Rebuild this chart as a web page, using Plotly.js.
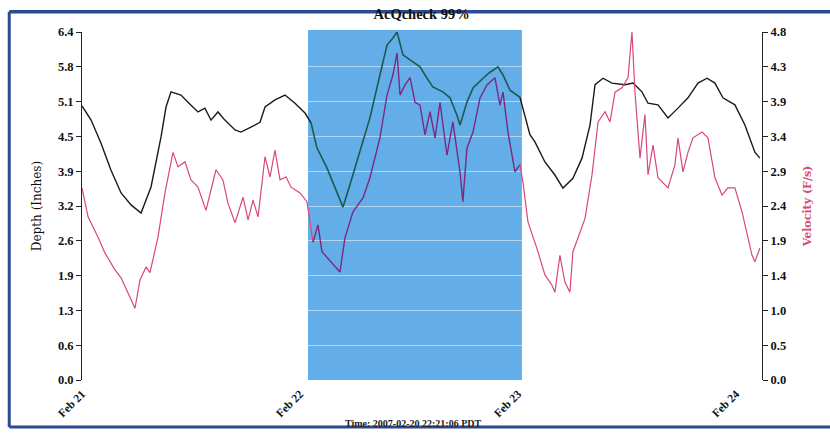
<!DOCTYPE html>
<html>
<head>
<meta charset="utf-8">
<script src="https://cdn.plot.ly/plotly-3.0.1.min.js"></script>
<style>html,body{margin:0;padding:0;background:#fff;}#chart{width:830px;height:433px;}</style>
</head>
<body>
<div id="chart"></div>
<script>
// ---- data ----
const depthTime = ["2007-02-21 00:00","2007-02-21 01:00","2007-02-21 02:05","2007-02-21 03:11","2007-02-21 04:18","2007-02-21 05:24","2007-02-21 06:30","2007-02-21 07:36","2007-02-21 08:42","2007-02-21 09:15","2007-02-21 09:48","2007-02-21 10:54","2007-02-21 11:40","2007-02-21 12:46","2007-02-21 13:32","2007-02-21 14:12","2007-02-21 14:58","2007-02-21 15:44","2007-02-21 16:51","2007-02-21 17:30","2007-02-21 18:36","2007-02-21 19:36","2007-02-21 20:09","2007-02-21 21:15","2007-02-21 22:21","2007-02-21 23:27","2007-02-22 00:33","2007-02-22 01:13","2007-02-22 01:52","2007-02-22 02:58","2007-02-22 04:04","2007-02-22 04:44","2007-02-22 05:30","2007-02-22 06:36","2007-02-22 07:42","2007-02-22 08:48","2007-02-22 09:35","2007-02-22 10:14","2007-02-22 10:41","2007-02-22 11:20","2007-02-22 12:26","2007-02-22 13:13","2007-02-22 13:59","2007-02-22 14:38","2007-02-22 15:44","2007-02-22 16:31","2007-02-22 17:17","2007-02-22 17:37","2007-02-22 18:23","2007-02-22 19:03","2007-02-22 20:09","2007-02-22 20:55","2007-02-22 21:48","2007-02-22 22:21","2007-02-22 23:07","2007-02-23 00:13","2007-02-23 01:19","2007-02-23 01:52","2007-02-23 02:58","2007-02-23 04:04","2007-02-23 04:57","2007-02-23 06:03","2007-02-23 07:03","2007-02-23 07:56","2007-02-23 08:29","2007-02-23 09:22","2007-02-23 10:21","2007-02-23 11:47","2007-02-23 12:40","2007-02-23 13:39","2007-02-23 14:19","2007-02-23 15:25","2007-02-23 16:31","2007-02-23 17:37","2007-02-23 18:43","2007-02-23 19:49","2007-02-23 20:49","2007-02-23 21:41","2007-02-23 22:34","2007-02-23 23:53","2007-02-24 00:59","2007-02-24 02:05","2007-02-24 02:38"];
const depthInches = [5.04,4.78,4.36,3.86,3.44,3.22,3.07,3.55,4.47,5.02,5.30,5.24,5.11,4.93,5.00,4.78,4.93,4.78,4.60,4.56,4.65,4.74,5.02,5.15,5.24,5.09,4.91,4.73,4.27,3.90,3.46,3.18,3.59,4.19,4.82,5.61,6.16,6.29,6.40,5.98,5.85,5.76,5.55,5.39,5.30,5.19,4.87,4.69,5.11,5.37,5.55,5.66,5.76,5.61,5.33,5.20,4.51,4.38,4.01,3.77,3.53,3.71,4.08,4.69,5.43,5.55,5.46,5.43,5.46,5.30,5.09,5.06,4.82,5.00,5.19,5.46,5.55,5.46,5.19,5.06,4.69,4.19,4.08];

const velTime = ["2007-02-21 00:00","2007-02-21 00:40","2007-02-21 01:46","2007-02-21 02:32","2007-02-21 03:38","2007-02-21 04:18","2007-02-21 05:04","2007-02-21 05:50","2007-02-21 06:23","2007-02-21 07:03","2007-02-21 07:29","2007-02-21 08:22","2007-02-21 09:08","2007-02-21 10:01","2007-02-21 10:34","2007-02-21 11:20","2007-02-21 12:00","2007-02-21 12:46","2007-02-21 13:39","2007-02-21 14:45","2007-02-21 15:31","2007-02-21 16:04","2007-02-21 16:51","2007-02-21 17:44","2007-02-21 18:17","2007-02-21 18:50","2007-02-21 19:23","2007-02-21 20:09","2007-02-21 20:42","2007-02-21 21:15","2007-02-21 21:48","2007-02-21 22:28","2007-02-21 23:01","2007-02-22 00:00","2007-02-22 00:46","2007-02-22 01:26","2007-02-22 01:59","2007-02-22 02:25","2007-02-22 03:38","2007-02-22 04:24","2007-02-22 04:57","2007-02-22 05:50","2007-02-22 06:56","2007-02-22 07:42","2007-02-22 08:48","2007-02-22 09:35","2007-02-22 10:14","2007-02-22 10:41","2007-02-22 11:01","2007-02-22 11:34","2007-02-22 12:07","2007-02-22 12:40","2007-02-22 13:13","2007-02-22 13:46","2007-02-22 14:19","2007-02-22 14:52","2007-02-22 15:25","2007-02-22 16:11","2007-02-22 16:50","2007-02-22 17:37","2007-02-22 17:56","2007-02-22 18:23","2007-02-22 19:03","2007-02-22 19:49","2007-02-22 20:35","2007-02-22 21:28","2007-02-22 22:01","2007-02-22 22:21","2007-02-22 22:54","2007-02-22 23:40","2007-02-23 00:13","2007-02-23 00:33","2007-02-23 01:06","2007-02-23 02:12","2007-02-23 02:58","2007-02-23 03:44","2007-02-23 04:04","2007-02-23 04:37","2007-02-23 05:10","2007-02-23 05:43","2007-02-23 06:03","2007-02-23 06:37","2007-02-23 07:23","2007-02-23 08:09","2007-02-23 08:49","2007-02-23 09:35","2007-02-23 10:08","2007-02-23 10:41","2007-02-23 11:27","2007-02-23 12:07","2007-02-23 12:33","2007-02-23 12:53","2007-02-23 13:26","2007-02-23 13:59","2007-02-23 14:19","2007-02-23 14:52","2007-02-23 15:25","2007-02-23 16:31","2007-02-23 17:17","2007-02-23 17:37","2007-02-23 18:10","2007-02-23 18:43","2007-02-23 19:16","2007-02-23 20:16","2007-02-23 20:55","2007-02-23 21:41","2007-02-23 22:28","2007-02-23 23:07","2007-02-23 23:53","2007-02-24 00:40","2007-02-24 01:13","2007-02-24 01:46","2007-02-24 02:05","2007-02-24 02:38"];
const velocityFs = [2.65,2.25,1.97,1.75,1.52,1.41,1.20,0.99,1.38,1.56,1.48,1.97,2.58,3.14,2.94,3.01,2.76,2.66,2.34,2.90,2.76,2.44,2.17,2.52,2.21,2.48,2.25,3.08,2.80,3.17,2.76,2.80,2.66,2.58,2.46,1.90,2.14,1.77,1.59,1.49,1.96,2.32,2.51,2.79,3.34,3.93,4.21,4.51,3.93,4.07,4.17,3.83,3.79,3.38,3.70,3.34,3.83,3.10,3.56,2.87,2.46,3.20,3.42,3.89,4.07,4.17,3.79,3.97,3.42,2.87,2.97,2.73,2.18,1.77,1.45,1.31,1.21,1.72,1.35,1.21,1.77,1.96,2.23,2.83,3.56,3.70,3.56,3.97,4.03,4.17,4.80,3.97,3.06,3.66,2.83,3.24,2.79,2.65,2.97,3.34,2.87,3.14,3.34,3.42,3.34,2.79,2.55,2.65,2.65,2.32,2.04,1.72,1.63,1.82];

const depthTickVals = [0,0.64,1.28,1.92,2.56,3.2,3.84,4.48,5.12,5.76,6.4];
const depthTickText = ["0.0","0.6","1.3","1.9","2.6","3.2","3.9","4.5","5.1","5.8","6.4"];
const velTickVals = [0,0.48,0.96,1.44,1.92,2.4,2.88,3.36,3.84,4.32,4.8];
const velTickText = ["0.0","0.5","1.0","1.4","1.9","2.4","2.9","3.4","3.9","4.3","4.8"];
const dateTickVals = ["2007-02-21","2007-02-22","2007-02-23","2007-02-24"];
const dateTickText = ["Feb 21","Feb 22","Feb 23","Feb 24"];
const checkStart = "2007-02-22 00:53";
const checkEnd = "2007-02-23 00:26";

// ---- split each series at the check window ----
function splitSeries(t, v) {
  const s = new Date(checkStart.replace(" ", "T")).getTime();
  const e = new Date(checkEnd.replace(" ", "T")).getTime();
  const ms = t.map(d => new Date(d.replace(" ", "T")).getTime());
  let i0 = ms.findIndex(m => m >= s);
  let i1 = ms.length - 1;
  while (i1 > 0 && ms[i1] > e) i1--;
  return {
    before: {x: t.slice(0, i0 + 1), y: v.slice(0, i0 + 1)},
    inside: {x: t.slice(i0, i1 + 1), y: v.slice(i0, i1 + 1)},
    after: {x: t.slice(i1), y: v.slice(i1)}
  };
}
const dS = splitSeries(depthTime, depthInches);
const vS = splitSeries(velTime, velocityFs);

const serif = "'Liberation Serif', 'DejaVu Serif', serif";
const wideSerif = "'DejaVu Serif', 'Liberation Serif', serif";
const pink = "#d8467f", purple = "#7b2a7d", black = "#1a1a1a", teal = "#1d5a4c";

function seg(p, color, axis, w) {
  return {x: p.x, y: p.y, type: "scatter", mode: "lines", yaxis: axis,
          line: {color: color, width: w}, hoverinfo: "skip", showlegend: false};
}
const data = [
  seg(vS.before, pink, "y2", 1.2), seg(vS.inside, purple, "y2", 1.4), seg(vS.after, pink, "y2", 1.2),
  seg(dS.before, black, "y", 1.4), seg(dS.inside, teal, "y", 1.6), seg(dS.after, black, "y", 1.4)
];

const frame = "#2c4a8e";
const layout = {
  width: 830, height: 433,
  margin: {l: 82, r: 68, t: 32, b: 53},
  paper_bgcolor: "#ffffff", plot_bgcolor: "rgba(0,0,0,0)",
  showlegend: false,
  font: {family: serif, color: "#111"},
  title: {text: "<b>AcQcheck 99%</b>", font: {family: serif, size: 14.5, color: "#111"},
          x: 0.508, xanchor: "center", y: 0.968, yanchor: "middle"},
  xaxis: {type: "date", range: ["2007-02-21 00:00", "2007-02-24 02:52"],
          tickvals: dateTickVals, ticktext: dateTickText, tickangle: -45,
          showgrid: false, zeroline: false, showline: false, ticks: "", ticklabelstandoff: 4,
          tickfont: {family: serif, size: 11.5, color: "#111", weight: "bold"}},
  yaxis: {range: [0, 6.4], tickvals: depthTickVals, ticktext: depthTickText,
          showgrid: true, gridcolor: "rgba(255,255,255,0.5)", gridwidth: 1,
          zeroline: false, showline: true, linecolor: "#222", linewidth: 1,
          ticks: "outside", ticklen: 5, tickcolor: "#222",
          tickfont: {family: serif, size: 12.5, color: "#111", weight: "bold"},
          title: {text: "Depth (Inches)", font: {family: wideSerif, size: 12, color: "#111"}, standoff: 13}},
  yaxis2: {range: [0, 4.8], overlaying: "y", side: "right", tickvals: velTickVals, ticktext: velTickText,
           showgrid: false, zeroline: false, showline: true, linecolor: "#222", linewidth: 1,
           ticks: "outside", ticklen: 5, tickcolor: "#222",
           tickfont: {family: serif, size: 12.5, color: "#111", weight: "bold"},
           title: {text: "<b>Velocity (F/s)</b>", font: {family: wideSerif, size: 11, color: "#d8467f"}, standoff: 17}},
  shapes: [
    {type: "rect", layer: "below", xref: "x", yref: "paper", x0: checkStart, x1: checkEnd, y0: 0, y1: 1.006,
     fillcolor: "#63ade9", line: {width: 0}},
    {type: "line", xref: "paper", yref: "paper", x0: -0.107, x1: 1.1, y0: 1.058, y1: 1.058, line: {color: frame, width: 3.5}},
    {type: "line", xref: "paper", yref: "paper", x0: -0.107, x1: 1.1, y0: -0.135, y1: -0.135, line: {color: frame, width: 3}},
    {type: "line", xref: "paper", yref: "paper", x0: -0.107, x1: -0.107, y0: -0.135, y1: 1.058, line: {color: frame, width: 3}}
  ],
  annotations: [
    {text: "<b>Time: 2007-02-20 22:21:06 PDT</b>", xref: "paper", yref: "paper", x: 0.487, y: -0.124,
     xanchor: "center", yanchor: "middle", showarrow: false, font: {family: serif, size: 10, color: "#222"}}
  ]
};
Plotly.newPlot("chart", data, layout, {staticPlot: true, displayModeBar: false});
</script>
</body>
</html>
